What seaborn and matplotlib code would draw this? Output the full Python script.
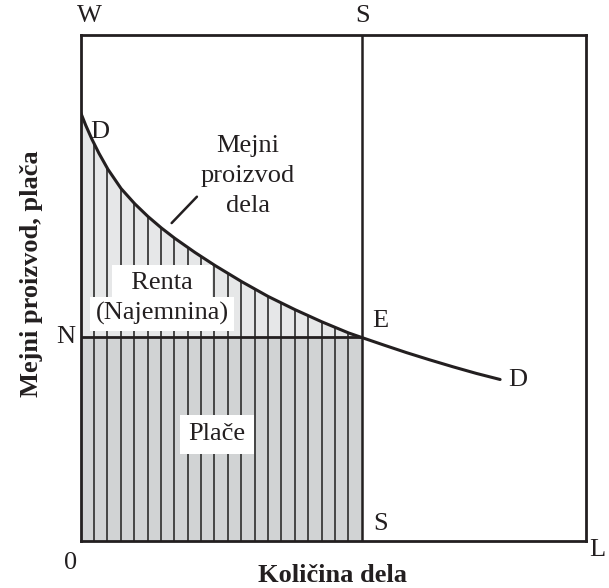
import numpy as np
import matplotlib
matplotlib.use('Agg')
import matplotlib.pyplot as plt
import seaborn as sns

# ── DATA ────────────────────────────────────────────────────────────────────
# marginal product of labour curve (D ... D)
qty = [0.0, 1.0, 2.2, 3.6, 5.4, 8.0, 10.7, 13.3, 16.0, 18.6, 22.6, 26.6,
       31.9, 37.1, 42.4, 47.7, 53.0, 55.6, 60.0, 64.5, 69.0, 73.7, 78.3, 83.0]
mp = [84.6, 82.1, 79.4, 76.6, 73.4, 69.6, 66.6, 64.1, 61.8, 59.8, 57.0, 54.4,
      51.2, 48.3, 45.7, 43.3, 41.1, 40.2, 38.7, 37.2, 35.8, 34.4, 33.1, 31.9]
S_QTY = 55.6      # employed labour (S)
WAGE = 40.2       # wage level (N)

INK = '#231f20'
LIGHT = '#e6e7e8'
DARK = '#d1d3d4'

sns.set_style('white')
plt.rcParams['font.family'] = ['Liberation Serif', 'DejaVu Serif']

fig = plt.figure(figsize=(6.09, 5.88), dpi=100)
ax = fig.add_axes([80.7 / 609, (588 - 541) / 588, 505.3 / 609, 506.3 / 588])
ax.set_xlim(0, 100)
ax.set_ylim(0, 100)

# ── AREAS ───────────────────────────────────────────────────────────────────
q = np.array(qty)
m = np.array(mp)
left = q <= S_QTY + 1e-9
ax.fill_between(q[left], WAGE, m[left], color=LIGHT, lw=0, zorder=1)
ax.fill_between([0, S_QTY], 0, WAGE, color=DARK, lw=0, zorder=1)
clip = ax.fill_between(q[left], 0, m[left], facecolor='none', lw=0)

# vertical hatching, clipped to the area under the curve
strips = np.arange(1, 21) * S_QTY / 21
vl = ax.vlines(strips, 0, 100, color='#3a3a3a', lw=1.3, zorder=2)
vl.set_clip_path(clip.get_paths()[0], ax.transData)

# ── LINES ───────────────────────────────────────────────────────────────────
ax.hlines(WAGE, 0, S_QTY, color=INK, lw=2, zorder=3)
ax.axvline(S_QTY, color=INK, lw=1.8, zorder=3)
sns.lineplot(x=qty, y=mp, ax=ax, color=INK, lw=2.2, zorder=4, sort=False)
ax.plot([18.0, 23.0], [62.8, 68.0], color=INK, lw=1.8)

for sp in ax.spines.values():
    sp.set_visible(True)
    sp.set_color(INK)
    sp.set_linewidth(2)
ax.set_xticks([])
ax.set_yticks([])

# ── TEXT ────────────────────────────────────────────────────────────────────
fs = 19
kw = dict(fontsize=fs, color=INK, ha='center', va='center', clip_on=False)
ax.text(1.8, 103.6, 'W', **kw)
ax.text(55.7, 103.6, 'S', **kw)
ax.text(3.8, 80.8, 'D', **kw)
ax.text(59.3, 43.4, 'E', **kw)
ax.text(86.5, 31.8, 'D', **kw)
ax.text(-3.0, 40.2, 'N', **kw)
ax.text(59.3, 3.3, 'S', **kw)
ax.text(-2.0, -4.4, '0', **kw)
ax.text(102.3, -1.8, 'L', **kw)
ax.text(33.1, 72.1, 'Mejni\nproizvod\ndela', linespacing=1.45, **kw)
ax.text(16.1, 51.0, '  Renta  ', zorder=5,
        bbox=dict(facecolor='white', edgecolor='none', pad=4.5), **kw)
ax.text(16.1, 44.9, '(Najemnina)', zorder=5,
        bbox=dict(facecolor='white', edgecolor='none', pad=4), **kw)
ax.text(26.9, 21.1, 'Plače', bbox=dict(facecolor='white', edgecolor='none', pad=6), **kw)

fig.text(332 / 609, 1 - 576 / 588, 'Količina dela', fontsize=fs, fontweight='bold',
         color=INK, ha='center', va='center')
fig.text(32 / 609, 1 - 274 / 588, 'Mejni proizvod, plača', fontsize=fs, fontweight='bold',
         color=INK, ha='center', va='center', rotation=90)

fig.savefig('out.png', dpi=100)
